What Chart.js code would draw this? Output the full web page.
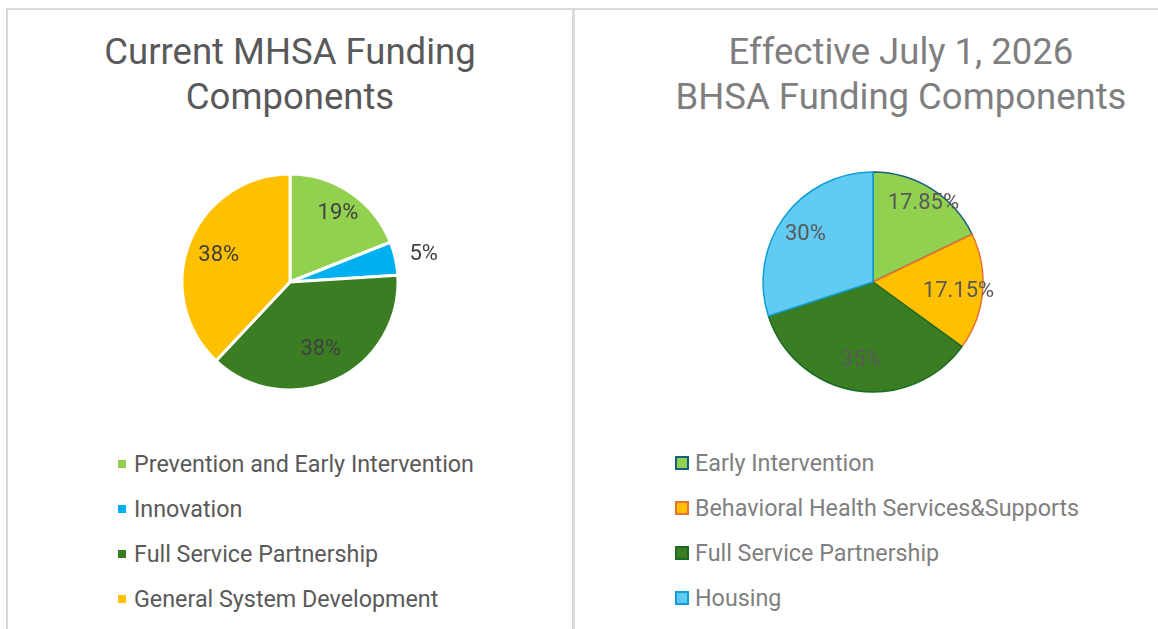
<!DOCTYPE html>
<html>
<head>
<meta charset="utf-8">
<script src="https://cdn.jsdelivr.net/npm/chart.js@4"></script>
<style>
  html, body { margin: 0; padding: 0; background: #fff; overflow: hidden; }
  body { width: 1158px; height: 629px; position: relative; font-family: Roboto, "Liberation Sans", sans-serif; }
  .line { position: absolute; background: #d9d9d9; }
  .title { position: absolute; text-align: center; font-size: 36.5px; line-height: 45px; white-space: nowrap; }
  .chartbox { position: absolute; }
  .legend { position: absolute; margin: 0; padding: 0; list-style: none; font-size: 23.3px; }
  .legend li { height: 45px; display: flex; align-items: center; white-space: nowrap; }
  .legend .box { display: inline-block; box-sizing: border-box; }
</style>
</head>
<body>
<div class="line" style="left:6px;top:8px;width:1152px;height:2px;"></div>
<div class="line" style="left:6px;top:8px;width:2px;height:621px;"></div>
<div class="line" style="left:572px;top:8px;width:3px;height:621px;"></div>

<div class="title" id="title-left" style="left:8px;top:29px;width:564px;color:#595959;"></div>
<div class="title" id="title-right" style="left:644px;top:29px;width:514px;color:#7f7f7f;"></div>

<div class="chartbox" style="left:8px;top:140px;width:564px;height:284px;"><canvas id="mhsaChart"></canvas></div>
<div class="chartbox" style="left:576px;top:140px;width:582px;height:284px;"><canvas id="bhsaChart"></canvas></div>

<ul class="legend" id="legend-left" style="left:118px;top:441px;color:#595959;"></ul>
<ul class="legend" id="legend-right" style="left:675px;top:440px;color:#7f7f7f;"></ul>

<script>
const mhsaTitle = ['Current MHSA Funding', 'Components'];
const mhsaLabels = ['Prevention and Early Intervention', 'Innovation', 'Full Service Partnership', 'General System Development'];
const mhsaValues = [19, 5, 38, 38];
const mhsaColors = ['#92d050', '#00b0f0', '#3a7d22', '#ffc000'];

const bhsaTitle = ['Effective July 1, 2026', 'BHSA Funding Components'];
const bhsaLabels = ['Early Intervention', 'Behavioral Health Services&Supports', 'Full Service Partnership', 'Housing'];
const bhsaValues = [17.85, 17.15, 35, 30];
const bhsaColors = ['#92d050', '#ffc000', '#3a7d22', '#61cbf3'];
const bhsaBorders = ['#156082', '#e97132', '#196b24', '#0f9ed5'];

document.getElementById('title-left').innerHTML = mhsaTitle.join('<br>');
document.getElementById('title-right').innerHTML = bhsaTitle.join('<br>');

// draws the percentage labels on (or just outside) each slice
const pieLabels = {
  id: 'pieLabels',
  afterDatasetsDraw(chart, args, opts) {
    const ctx = chart.ctx;
    const meta = chart.getDatasetMeta(0);
    const values = chart.data.datasets[0].data;
    ctx.save();
    ctx.font = opts.font;
    ctx.fillStyle = opts.color;
    ctx.textAlign = 'center';
    ctx.textBaseline = 'middle';
    meta.data.forEach((arc, i) => {
      const p = arc.getProps(['x', 'y', 'startAngle', 'endAngle', 'outerRadius'], true);
      const mid = (p.startAngle + p.endAngle) / 2;
      const outside = values[i] < opts.outsideBelow;
      const r = outside ? p.outerRadius + opts.outsideGap : p.outerRadius * opts.inset[i];
      ctx.fillText(values[i] + '%', p.x + Math.cos(mid) * r, p.y + Math.sin(mid) * r + 2);
    });
    ctx.restore();
  }
};

function buildLegend(chart, elemId, boxSize, borderWidth) {
  const ul = document.getElementById(elemId);
  const items = chart.options.plugins.legend.labels.generateLabels(chart);
  items.forEach(item => {
    const li = document.createElement('li');
    const box = document.createElement('span');
    box.className = 'box';
    box.style.width = boxSize + 'px';
    box.style.height = boxSize + 'px';
    box.style.background = item.fillStyle;
    box.style.marginRight = (borderWidth ? 6 : 8) + 'px';
    if (borderWidth) box.style.border = borderWidth + 'px solid ' + item.strokeStyle;
    li.appendChild(box);
    li.appendChild(document.createTextNode(item.text));
    ul.appendChild(li);
  });
}

const mhsaChart = new Chart(document.getElementById('mhsaChart').getContext('2d'), {
  type: 'pie',
  data: {
    labels: mhsaLabels,
    datasets: [{
      data: mhsaValues,
      backgroundColor: mhsaColors,
      borderColor: '#ffffff',
      borderWidth: 3
    }]
  },
  options: {
    responsive: true,
    maintainAspectRatio: false,
    animation: false,
    radius: 108,
    plugins: {
      legend: { display: false },
      tooltip: { enabled: false },
      pieLabels: { font: '22px Roboto', color: '#404040', inset: [0.79, 1, 0.67, 0.71], outsideBelow: 8, outsideGap: 29 }
    }
  },
  plugins: [pieLabels]
});

const bhsaChart = new Chart(document.getElementById('bhsaChart').getContext('2d'), {
  type: 'pie',
  data: {
    labels: bhsaLabels,
    datasets: [{
      data: bhsaValues,
      backgroundColor: bhsaColors,
      borderColor: bhsaBorders,
      borderWidth: 1.5
    }]
  },
  options: {
    responsive: true,
    maintainAspectRatio: false,
    animation: false,
    radius: 110,
    layout: { padding: { left: 12 } },
    plugins: {
      legend: { display: false },
      tooltip: { enabled: false },
      pieLabels: { font: '22px Roboto', color: '#595959', inset: [0.86, 0.78, 0.7, 0.76], outsideBelow: 8, outsideGap: 29 }
    }
  },
  plugins: [pieLabels]
});

buildLegend(mhsaChart, 'legend-left', 8, 0);
buildLegend(bhsaChart, 'legend-right', 14, 2);
</script>
</body>
</html>
